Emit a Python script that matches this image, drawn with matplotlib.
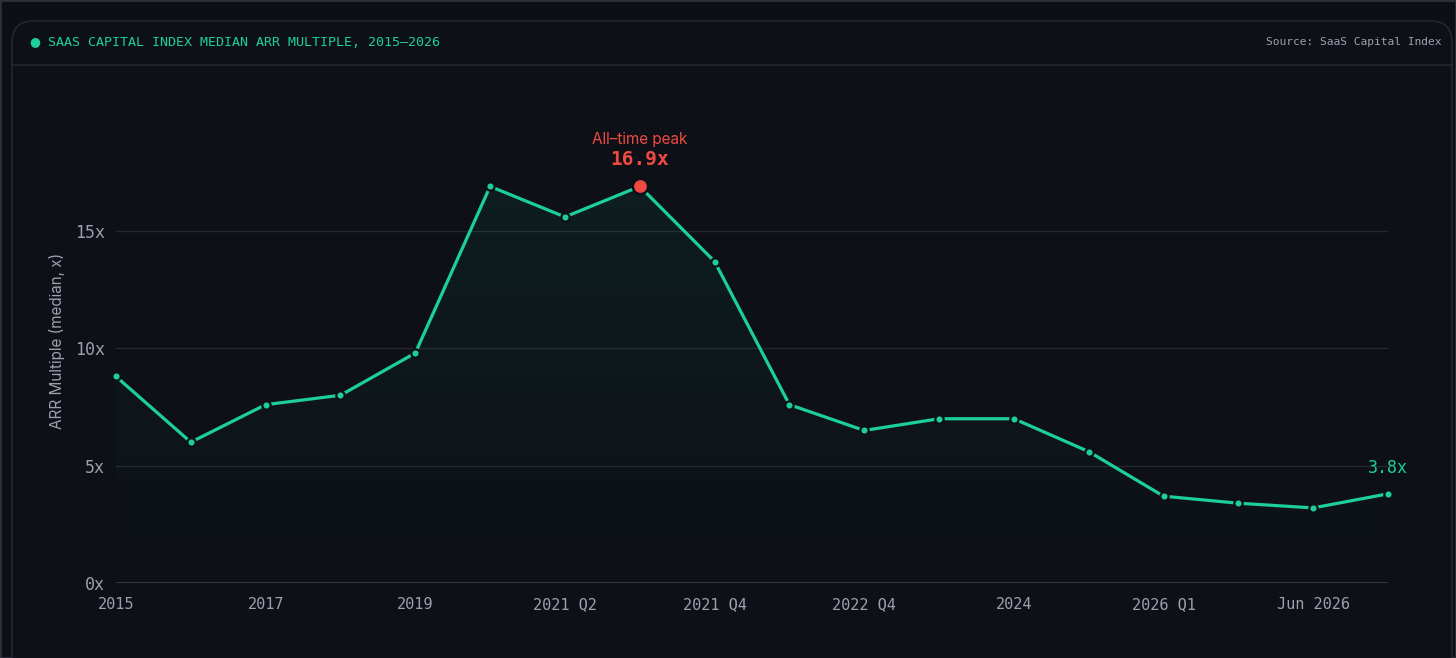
import numpy as np
import matplotlib.pyplot as plt
import matplotlib.patches as patches
from matplotlib.colors import to_rgb

# data
periods = ["2015", "2016", "2017", "2018", "2019", "2020", "2021 Q2", "2021 Q3",
           "2021 Q4", "2022 Q2", "2022 Q4", "2023", "2024", "2025", "2026 Q1",
           "Mar 2026", "Jun 2026", "Sep 2026"]
arr_multiple = [8.8, 6.0, 7.6, 8.0, 9.8, 16.9, 15.6, 16.9, 13.7, 7.6, 6.5, 7.0,
                7.0, 5.6, 3.7, 3.4, 3.2, 3.8]
y_ticks = [0, 5, 10, 15]
y_tick_labels = ["0x", "5x", "10x", "15x"]
peak_idx = 7

# colours
bg = "#0c0f15"
card_bg = "#0d1017"
border = "#222731"
green = "#1ccf9b"
red = "#ef4a42"
grey = "#9ba1ad"
mono = "DejaVu Sans Mono"
sans = "Inter"

W, H = 1456, 658
fig = plt.figure(figsize=(W / 100, H / 100), dpi=100, facecolor=bg)

# outer frame + card (kept behind the axes)
fig.patches.append(patches.Rectangle((0, 0), 1, 1, transform=fig.transFigure,
                                     fill=False, ec="#2c313a", lw=2, zorder=-3))
card = patches.FancyBboxPatch((12 / W, -0.05), 1440 / W, (H + 30 - 18) / H,
                              boxstyle="round,pad=0,rounding_size=0.015",
                              transform=fig.transFigure, fc=card_bg, ec=border, lw=1.2,
                              mutation_aspect=W / H, zorder=-2)
fig.patches.append(card)
fig.lines.append(plt.Line2D([12 / W, 1452 / W], [1 - 65 / H, 1 - 65 / H],
                            transform=fig.transFigure, color=border, lw=1.2, zorder=-1))

# header
fig.text(35 / W, 1 - 42 / H, "\u25cf", color=green, fontsize=9, va="center", ha="center")
fig.text(48 / W, 1 - 42 / H, "SAAS CAPITAL INDEX MEDIAN ARR MULTIPLE, 2015\u20132026",
         color=green, fontsize=9.6, family=mono, va="center", ha="left")
fig.text(1441 / W, 1 - 42 / H, "Source: SaaS Capital Index", color=grey,
         fontsize=8.1, family=mono, va="center", ha="right")

# axes: x 116..1388 px, y 0 at 583 px
ymax = 18
px_per = (583 - 231) / 15
ax_h = ymax * px_per
ax = fig.add_axes([116 / W, (H - 583) / H, (1388 - 116) / W, ax_h / H])
ax.set_facecolor("none")
x = np.arange(len(periods))

for s in ax.spines.values():
    s.set_visible(False)
for t in y_ticks[1:]:
    ax.axhline(t, color="#232833", lw=1, zorder=1)
ax.axhline(0, color="#3a3f4a", lw=1.2, zorder=1)

# gradient fill under line
poly = ax.fill_between(x, arr_multiple, 0, facecolor="none", edgecolor="none")
r, g, b = to_rgb(green)
grad = np.zeros((256, 2, 4))
grad[..., 0], grad[..., 1], grad[..., 2] = r, g, b
grad[..., 3] = np.linspace(0.0, 0.075, 256)[:, None]
img = ax.imshow(grad, extent=[0, len(periods) - 1, 0, 17], origin="lower",
                aspect="auto", zorder=1.5)
img.set_clip_path(poly.get_paths()[0], transform=ax.transData)
ax.set_xlim(0, len(periods) - 1)
ax.set_ylim(0, ymax)

ax.plot(x, arr_multiple, color=green, lw=2.3, zorder=3, solid_capstyle="round")
ax.plot(x, arr_multiple, ls="none", marker="o", ms=6, mfc=green, mec=card_bg,
        mew=1.6, zorder=4, clip_on=False)
ax.plot(x[peak_idx], arr_multiple[peak_idx], ls="none", marker="o", ms=11,
        mfc=red, mec=card_bg, mew=1.8, zorder=5)

# annotations
ax.annotate("All\u2013time peak", (x[peak_idx], arr_multiple[peak_idx]),
            xytext=(0, 47), textcoords="offset pixels", ha="center", va="center",
            color=red, fontsize=11, family=sans, annotation_clip=False)
ax.annotate(f"{arr_multiple[peak_idx]:.1f}x", (x[peak_idx], arr_multiple[peak_idx]),
            xytext=(0, 27), textcoords="offset pixels", ha="center", va="center",
            color=red, fontsize=14, family=mono, weight="bold", annotation_clip=False)
ax.annotate(f"{arr_multiple[-1]:.1f}x", (x[-1], arr_multiple[-1]),
            xytext=(0, 26), textcoords="offset pixels", ha="center", va="center",
            color=green, fontsize=12, family=mono, annotation_clip=False)

# ticks
ax.set_yticks(y_ticks)
ax.set_yticklabels(y_tick_labels, family=mono, fontsize=12, color=grey)
ax.set_xticks(x[::2])
ax.set_xticklabels(periods[::2], family=mono, fontsize=11, color=grey)
ax.tick_params(axis="y", length=0, pad=8)
ax.tick_params(axis="x", length=0, pad=10)
ax.set_ylabel("ARR Multiple (median, x)", family=sans, fontsize=11, color=grey,
              va="center")
ax.yaxis.set_label_coords(-59 / (1388 - 116), 10.3 / ymax)

fig.savefig("out.png", dpi=100, facecolor=bg)
